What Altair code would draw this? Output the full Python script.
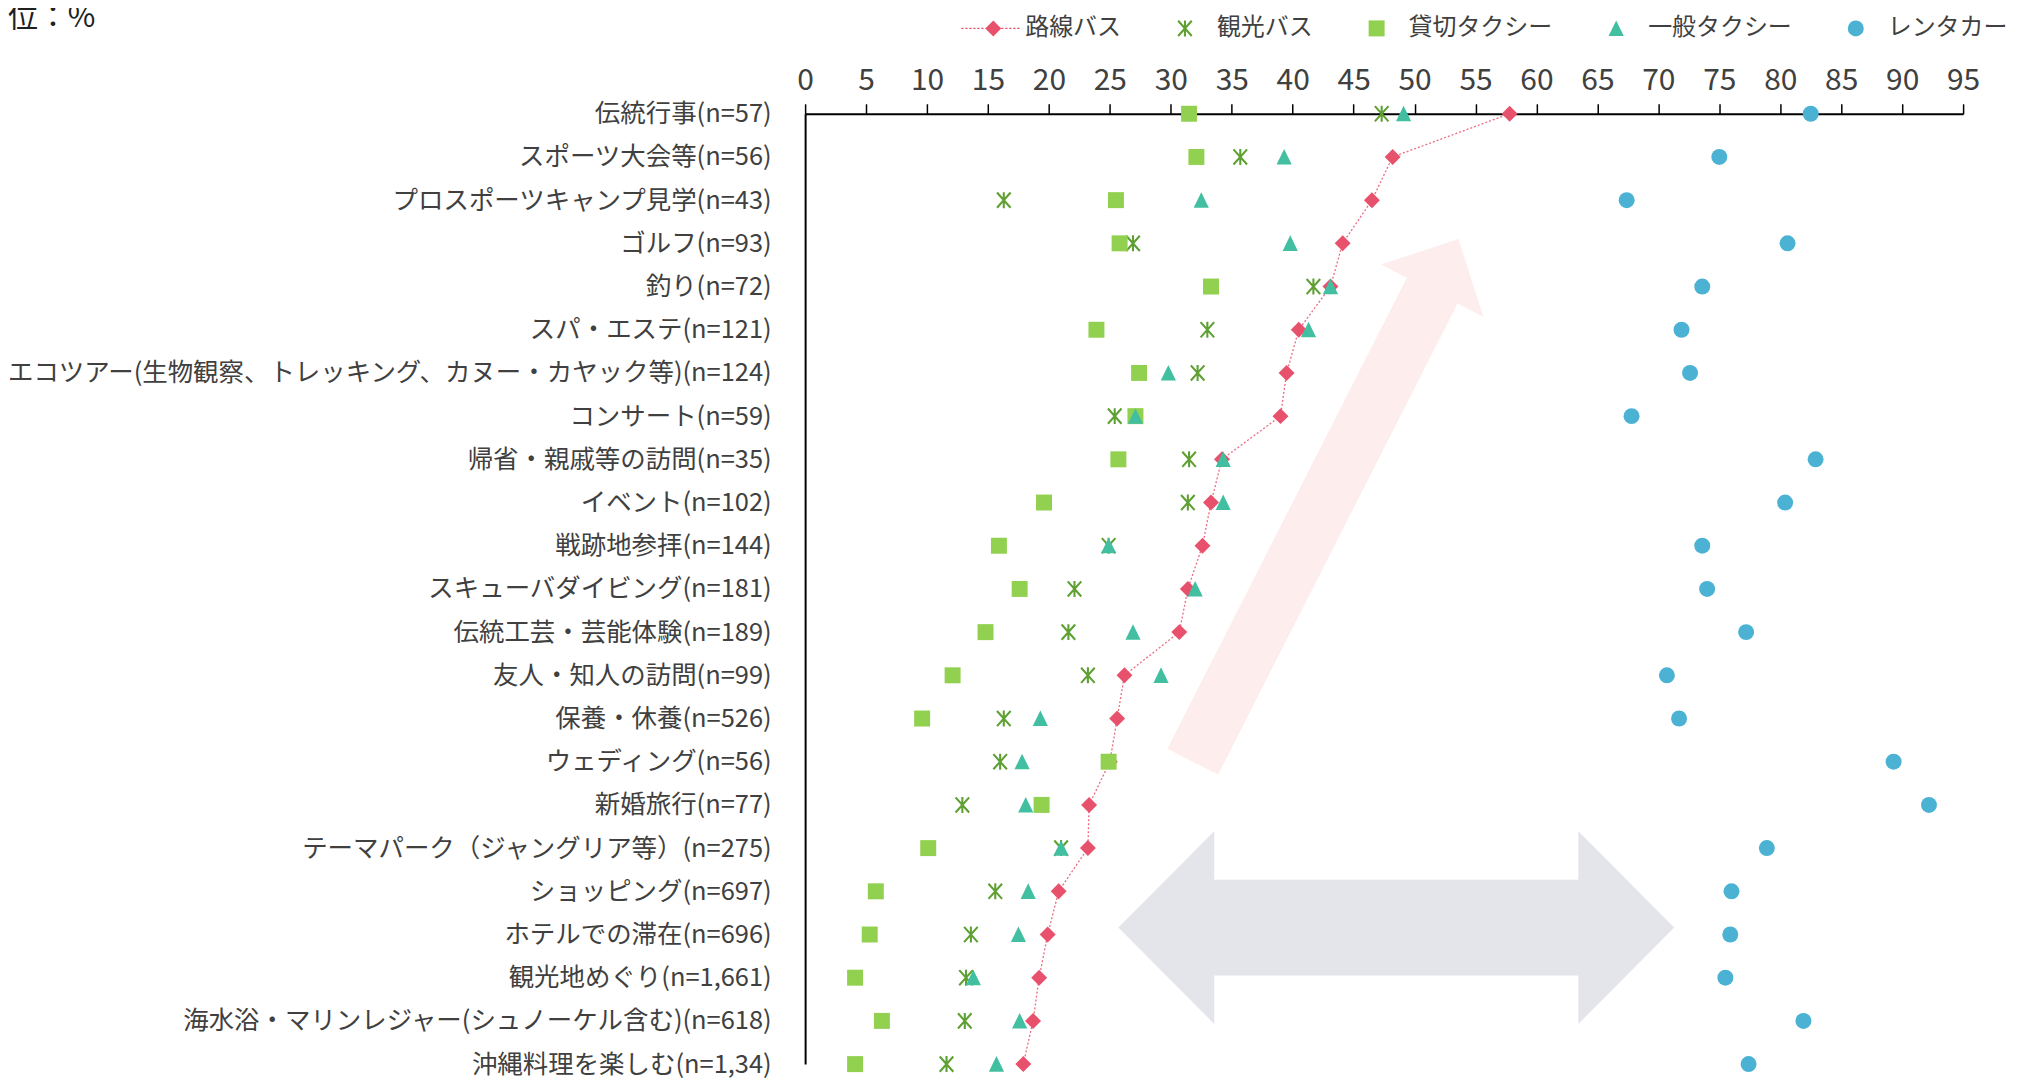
import json
import math
import altair as alt
import pandas as pd

# ---------------- data ----------------
categories = [
    "伝統行事(n=57)",
    "スポーツ大会等(n=56)",
    "プロスポーツキャンプ見学(n=43)",
    "ゴルフ(n=93)",
    "釣り(n=72)",
    "スパ・エステ(n=121)",
    "エコツアー(生物観察、トレッキング、カヌー・カヤック等)(n=124)",
    "コンサート(n=59)",
    "帰省・親戚等の訪問(n=35)",
    "イベント(n=102)",
    "戦跡地参拝(n=144)",
    "スキューバダイビング(n=181)",
    "伝統工芸・芸能体験(n=189)",
    "友人・知人の訪問(n=99)",
    "保養・休養(n=526)",
    "ウェディング(n=56)",
    "新婚旅行(n=77)",
    "テーマパーク（ジャングリア等）(n=275)",
    "ショッピング(n=697)",
    "ホテルでの滞在(n=696)",
    "観光地めぐり(n=1,661)",
    "海水浴・マリンレジャー(シュノーケル含む)(n=618)",
    "沖縄料理を楽しむ(n=1,34)",
]
route_bus = [57.8, 48.2, 46.5, 44.1, 43.1, 40.5, 39.5, 39.0, 34.2, 33.3, 32.6, 31.4,
             30.7, 26.2, 25.6, 25.0, 23.3, 23.2, 20.8, 19.9, 19.2, 18.7, 17.9]
sightseeing_bus = [47.3, 35.7, 16.3, 26.9, 41.7, 33.0, 32.2, 25.4, 31.5, 31.4, 24.9, 22.1,
                   21.6, 23.2, 16.3, 16.0, 12.9, 21.0, 15.6, 13.6, 13.2, 13.1, 11.6]
charter_taxi = [31.5, 32.1, 25.5, 25.8, 33.3, 23.9, 27.4, 27.1, 25.7, 19.6, 15.9, 17.6,
                14.8, 12.1, 9.6, 24.9, 19.4, 10.1, 5.8, 5.3, 4.1, 6.3, 4.1]
general_taxi = [49.1, 39.3, 32.5, 39.8, 43.1, 41.3, 29.8, 27.1, 34.3, 34.3, 24.9, 32.0,
                26.9, 29.2, 19.3, 17.8, 18.1, 21.0, 18.3, 17.5, 13.8, 17.6, 15.7]
rental_car = [82.5, 75.0, 67.4, 80.6, 73.6, 71.9, 72.6, 67.8, 82.9, 80.4, 73.6, 74.0,
              77.2, 70.7, 71.7, 89.3, 92.2, 78.9, 76.0, 75.9, 75.5, 81.9, 77.4]

series_names = ["路線バス", "観光バス", "貸切タクシー", "一般タクシー", "レンタカー"]
series_colors = ["#E8516B", "#5EA032", "#92D050", "#41BFA0", "#4BB2D3"]
x_ticks = list(range(0, 100, 5))
unit_label = "単位：%"

# decorative arrows (annotation, in value / row units)
rise_arrow_tail = (31.8, 16.0)
rise_arrow_tip = (53.6, 3.9)
spread_arrow_left = (25.7, 19.84)
spread_arrow_right = (71.3, 19.84)

# ---------------- layout / style ----------------
W, H = 1160, 952
X_MAX = 95
N = len(categories)
FONT = "Noto Sans CJK JP"
TEXT = "#404040"
PINK_ARROW = "#FDEDED"
GREY_ARROW = "#E4E4EB"


def seg(x1, y1, x2, y2, w):
    dx, dy = x2 - x1, y2 - y1
    L = math.hypot(dx, dy)
    nx, ny = -dy / L * w, dx / L * w
    pts = [(x1 + nx, y1 + ny), (x2 + nx, y2 + ny), (x2 - nx, y2 - ny), (x1 - nx, y1 - ny)]
    return "M" + "L".join(f"{a:.3f},{b:.3f}" for a, b in pts) + "Z"


asterisk = (seg(0, -1, 0, 1, 0.13) + seg(-0.85, -0.95, 0.85, 0.95, 0.13)
            + seg(-0.85, 0.95, 0.85, -0.95, 0.13))
triangle = "M0,-1L0.95,0.95L-0.95,0.95Z"
diamond = "M0,-1L1,0L0,1L-1,0Z"
dashes = "".join(
    f"M{x:.2f},-0.08L{x + 0.28:.2f},-0.08L{x + 0.28:.2f},0.08L{x:.2f},0.08Z"
    for x in [-4 + 0.5 * k for k in range(15)]
)
series_shapes = [dashes + diamond, asterisk, "square", triangle, "circle"]

rows = list(range(1, N + 1))
others = [("観光バス", sightseeing_bus), ("貸切タクシー", charter_taxi),
          ("一般タクシー", general_taxi), ("レンタカー", rental_car)]
pts_df = pd.DataFrame([{"series": s, "r": r, "v": v}
                       for s, vals in others for r, v in zip(rows, vals)])
route_df = pd.DataFrame({"r": rows, "v": route_bus})


def to_px(v, r):
    return v / X_MAX * W, (r - 1) / (N - 1) * H


def to_data(px, py):
    return px / W * X_MAX, py / H * (N - 1) + 1


def arrow_polygon(tail, tip, shaft_w, head_w, head_len, double=False):
    tx, ty = to_px(*tail)
    hx, hy = to_px(*tip)
    L = math.hypot(hx - tx, hy - ty)
    ux, uy = (hx - tx) / L, (hy - ty) / L
    nx, ny = -uy, ux

    def P(a, o):
        return (tx + ux * a + nx * o, ty + uy * a + ny * o)

    s, h = shaft_w / 2, head_w / 2
    if double:
        p = [P(0, 0), P(head_len, h), P(head_len, s), P(L - head_len, s), P(L - head_len, h),
             P(L, 0), P(L - head_len, -h), P(L - head_len, -s), P(head_len, -s), P(head_len, -h)]
    else:
        p = [P(0, s), P(L - head_len, s), P(L - head_len, h), P(L, 0),
             P(L - head_len, -h), P(L - head_len, -s), P(0, -s)]
    out = []
    for i, q in enumerate(p):
        v, r = to_data(*q)
        out.append({"i": i, "v": v, "r": r})
    return pd.DataFrame(out)


rise_df = arrow_polygon(rise_arrow_tail, rise_arrow_tip, 57, 115, 58)
spread_df = arrow_polygon(spread_arrow_left, spread_arrow_right, 96, 193, 96, double=True)

x_enc = alt.X(
    "v:Q",
    scale=alt.Scale(domain=[0, X_MAX], nice=False, zero=False),
    axis=alt.Axis(orient="top", values=x_ticks, title=None, grid=False,
                  labelFont=FONT, labelFontSize=30, labelColor=TEXT,
                  tickColor="#000000", tickSize=10, tickWidth=1.5,
                  domainColor="#000000", domainWidth=2, labelPadding=8,
                  labelFlush=False, labelOverlap=False),
)
label_expr = json.dumps(categories, ensure_ascii=False) + "[datum.value - 1]"
y_enc = alt.Y(
    "r:Q",
    scale=alt.Scale(domain=[1, N], reverse=True, nice=False, zero=False),
    axis=alt.Axis(values=rows, labelExpr=label_expr, title=None, grid=False,
                  ticks=False, tickSize=0, labelFont=FONT, labelFontSize=25.5,
                  labelColor=TEXT, labelPadding=34, labelLimit=2000,
                  labelOverlap=False, labelFlush=False,
                  domainColor="#000000", domainWidth=2),
)

rise = alt.Chart(rise_df).mark_line(fill=PINK_ARROW, strokeWidth=0).encode(
    x=x_enc, y=y_enc, order=alt.Order("i:Q"))
spread = alt.Chart(spread_df).mark_line(fill=GREY_ARROW, strokeWidth=0).encode(
    x=x_enc, y=y_enc, order=alt.Order("i:Q"))

route_line = alt.Chart(route_df).mark_line(
    color=series_colors[0], strokeDash=[2, 2], strokeWidth=1.3, opacity=0.85
).encode(x=x_enc, y=y_enc, order=alt.Order("r:Q"))

route_pts = alt.Chart(route_df).mark_point(
    shape="diamond", filled=True, size=256, color=series_colors[0], opacity=1, strokeWidth=0
).encode(x=x_enc, y=y_enc)

legend = alt.Legend(
    orient="none", legendX=176.5, legendY=-97.5, direction="horizontal", columns=5,
    title=None, labelFont=FONT, labelFontSize=24, labelColor=TEXT,
    symbolSize=256, symbolStrokeWidth=0, symbolOpacity=1, labelOffset=20,
    columnPadding=52, padding=0,
)
other_pts = alt.Chart(pts_df).mark_point(filled=True, size=256, opacity=1, strokeWidth=0).encode(
    x=x_enc,
    y=y_enc,
    color=alt.Color("series:N", scale=alt.Scale(domain=series_names, range=series_colors),
                    legend=legend),
    shape=alt.Shape("series:N", scale=alt.Scale(domain=series_names, range=series_shapes),
                    legend=legend),
)

chart = alt.layer(rise, spread, route_line, route_pts, other_pts).properties(
    width=W,
    height=H,
    padding={"left": 798.5, "top": 105, "right": 56, "bottom": 18},
    autosize=alt.AutoSizeParams(type="none"),
    title=alt.Title(unit_label, anchor="start", frame="group", orient="top",
                    dx=-828.5, dy=44.5, font=FONT, fontSize=30, fontWeight="normal",
                    color="#202020", baseline="alphabetic"),
).configure_view(strokeWidth=0)

chart.save("out.html", embed_options={"renderer": "svg", "actions": False})
